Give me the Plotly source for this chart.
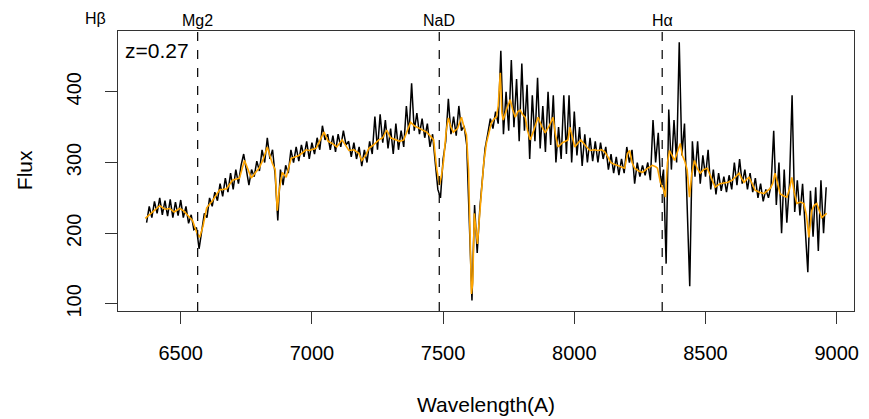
import plotly.graph_objects as go

# ---- data ----
redshift = 0.27
line_names = ["Hβ", "Mg2", "NaD", "Hα"]
line_rest = [4861, 5169, 5894, 6563]

# observed spectrum (black), 10 A sampling from 6370 to 8960
flux_start = 6370
flux_step = 10
flux_obs = [
    215, 238, 222, 245, 228, 250, 226, 246, 224, 248,
    222, 244, 225, 247, 222, 238, 214, 226, 205, 208,
    178, 200, 228, 222, 250, 238, 258, 246, 270, 252,
    278, 258, 285, 262, 290, 270, 296, 312, 290, 268,
    290, 280, 302, 288, 318, 300, 335, 305, 318, 282,
    218, 290, 268, 296, 285, 318, 300, 322, 302, 325,
    308, 330, 305, 328, 312, 335, 318, 352, 332, 340,
    318, 338, 315, 340, 322, 345, 325, 330, 308, 328,
    305, 322, 295, 318, 300, 330, 312, 365, 318, 368,
    328, 360, 320, 348, 312, 355, 318, 345, 322, 380,
    340, 412, 345, 370, 340, 362, 335, 355, 322, 340,
    300, 262, 250, 305, 330, 390, 340, 365, 338, 380,
    345, 352, 325, 210, 105, 240, 172, 235, 280, 320,
    340, 362, 348, 372, 355, 458, 340, 400, 345, 445,
    350, 418, 330, 440, 345, 410, 305, 395, 330, 420,
    320, 380, 315, 400, 325, 395, 300, 350, 305, 395,
    312, 395, 300, 372, 310, 350, 295, 340, 300, 335,
    302, 330, 300, 328, 305, 322, 290, 312, 285, 308,
    282, 305, 285, 322, 300, 318, 270, 300, 280, 296,
    282, 300, 275, 360, 300, 342, 265, 290, 157, 375,
    290, 360, 300, 470, 310, 355, 240, 125, 330, 280,
    330, 270, 310, 280, 318, 262, 290, 255, 285, 260,
    280, 258, 282, 262, 300, 268, 305, 270, 290, 262,
    285, 258, 278, 250, 270, 245, 262, 250, 268, 345,
    240, 300, 200, 290, 215, 270, 395, 230, 275, 225,
    270, 205, 145, 260, 195, 265, 175, 275, 200, 265,
]
wl_obs = [flux_start + flux_step * i for i in range(len(flux_obs))]

# smoothed spectrum (orange)
wl_smooth = [
    6365, 6380, 6400, 6420, 6440, 6458, 6475, 6496, 6510, 6527, 6545, 6561, 6572,
    6585, 6599, 6621, 6648, 6675, 6697, 6724, 6743, 6769, 6785, 6800, 6815, 6830,
    6849, 6860, 6868, 6876, 6887, 6902, 6921, 6951, 6978, 6989, 7016, 7030, 7046,
    7062, 7077, 7095, 7115, 7141, 7160, 7179, 7190, 7205, 7217, 7235, 7255, 7270,
    7285, 7300, 7319, 7335, 7350, 7365, 7376, 7390, 7407, 7420, 7437, 7450, 7464,
    7475, 7486, 7494, 7502, 7512, 7520, 7530, 7539, 7555, 7570, 7580, 7589, 7597,
    7604, 7608, 7613, 7619, 7625, 7631, 7638, 7646, 7655, 7665, 7675, 7684, 7695,
    7703, 7710, 7718, 7724, 7729, 7742, 7756, 7765, 7775, 7785, 7794, 7803, 7813,
    7822, 7832, 7845, 7862, 7875, 7889, 7905, 7919, 7928, 7938, 7955, 7976, 7983,
    7992, 8002, 8015, 8025, 8040, 8059, 8075, 8090, 8105, 8116, 8128, 8139, 8150,
    8165, 8180, 8192, 8203, 8211, 8220, 8230, 8245, 8260, 8280, 8298, 8310, 8317,
    8328, 8340, 8347, 8355, 8363, 8372, 8382, 8393, 8404, 8412, 8420, 8430, 8439,
    8448, 8458, 8468, 8480, 8493, 8507, 8520, 8537, 8555, 8571, 8586, 8602, 8615,
    8628, 8637, 8647, 8656, 8666, 8678, 8689, 8705, 8723, 8735, 8746, 8756, 8765,
    8775, 8784, 8797, 8810, 8820, 8829, 8838, 8848, 8862, 8875, 8885, 8894, 8905,
    8915, 8924, 8934, 8943, 8955, 8962,
]
flux_smooth = [
    221, 226, 232, 239, 234, 235, 230, 235, 232, 225, 218, 201, 194,
    210, 236, 246, 261, 263, 275, 278, 303, 278, 285, 293, 305, 322,
    299, 290, 232, 262, 286, 279, 306, 310, 318, 317, 320, 330, 343,
    330, 327, 322, 332, 317, 318, 313, 303, 310, 320, 325, 332, 335,
    346, 335, 332, 330, 332, 345, 357, 352, 349, 346, 343, 338, 332,
    293, 268, 282, 303, 345, 363, 350, 343, 348, 364, 350, 339, 290,
    200, 114, 130, 228, 205, 185, 220, 265, 300, 327, 345, 356, 362,
    364, 380, 427, 370, 360, 375, 389, 375, 364, 372, 374, 368, 364,
    345, 332, 345, 364, 352, 342, 352, 364, 340, 322, 328, 332, 350,
    335, 322, 328, 332, 325, 317, 318, 317, 318, 315, 308, 300, 298,
    296, 294, 292, 313, 317, 300, 292, 288, 286, 292, 296, 294, 292,
    272, 262, 251, 300, 317, 310, 303, 315, 327, 310, 303, 290, 251,
    285, 303, 292, 285, 290, 292, 280, 265, 270, 271, 272, 275, 280,
    285, 278, 272, 276, 279, 270, 261, 258, 256, 260, 263, 270, 285,
    270, 256, 253, 251, 262, 279, 258, 242, 244, 242, 225, 194, 232,
    240, 242, 230, 222, 226, 228,
]

xticks = [6500, 7000, 7500, 8000, 8500, 9000]
yticks = [100, 200, 300, 400]
x_range = [6261, 9066]
y_range = [90, 486]

FONT = "Liberation Sans, Arial, Helvetica, sans-serif"

fig = go.Figure()
fig.add_trace(go.Scatter(x=wl_obs, y=flux_obs, mode="lines",
                         line=dict(color="black", width=1.5), showlegend=False,
                         hoverinfo="skip"))
fig.add_trace(go.Scatter(x=wl_smooth, y=flux_smooth, mode="lines",
                         line=dict(color="#FFA500", width=1.6), showlegend=False,
                         hoverinfo="skip"))

annotations = []
shapes = []
for name, rest in zip(line_names, line_rest):
    obs = rest * (1 + redshift)
    frac = (obs - x_range[0]) / (x_range[1] - x_range[0])
    if 0 <= frac <= 1:
        shapes.append(dict(type="line", xref="x", yref="paper", x0=obs, x1=obs, y0=0, y1=1,
                           line=dict(color="black", width=1.2, dash="dash"), layer="above"))
    annotations.append(dict(x=frac, xref="paper", y=1.036 if name != "Hβ" else 1.046,
                            yref="paper", text=name, showarrow=False,
                            xanchor="center", yanchor="middle",
                            font=dict(size=16, color="black", family=FONT)))

annotations.append(dict(x=0.007, xref="paper", y=0.932, yref="paper", text=f"z={redshift}",
                        showarrow=False, xanchor="left", yanchor="middle",
                        font=dict(size=21, color="black", family=FONT)))
annotations.append(dict(x=0.5, xref="paper", y=-0.333, yref="paper", text="Wavelength(A)",
                        showarrow=False, xanchor="center", yanchor="middle",
                        font=dict(size=21, color="black", family=FONT)))
annotations.append(dict(x=-0.126, xref="paper", y=0.504, yref="paper", text="Flux",
                        showarrow=False, xanchor="center", yanchor="middle", textangle=-90,
                        font=dict(size=21, color="black", family=FONT)))

fig.update_layout(
    width=869, height=419,
    margin=dict(l=118, r=10, t=31, b=108, pad=0),
    paper_bgcolor="white", plot_bgcolor="white",
    font=dict(family=FONT, color="black"),
    hovermode=False,
    shapes=shapes, annotations=annotations,
    xaxis=dict(range=x_range, tickvals=xticks, ticktext=[str(v) for v in xticks],
               ticks="outside", ticklen=12, tickwidth=1, tickcolor="#333",
               showline=True, mirror=True, linecolor="#333", linewidth=1,
               showgrid=False, zeroline=False, tickfont=dict(size=20),
               ticklabelstandoff=12),
    yaxis=dict(range=y_range, tickvals=yticks, ticktext=[str(v) for v in yticks],
               ticks="outside", ticklen=12, tickwidth=1, tickcolor="#333",
               showline=True, mirror=True, linecolor="#333", linewidth=1,
               showgrid=False, zeroline=False, tickfont=dict(size=20), tickangle=-90,
               ticklabelstandoff=16),
)

# remove the default page margin so the figure sits at the window's top-left corner
fig.write_html("out.html",
               config={"displayModeBar": False, "staticPlot": True},
               post_script="document.body.style.margin='0';document.body.style.overflow='hidden';")
